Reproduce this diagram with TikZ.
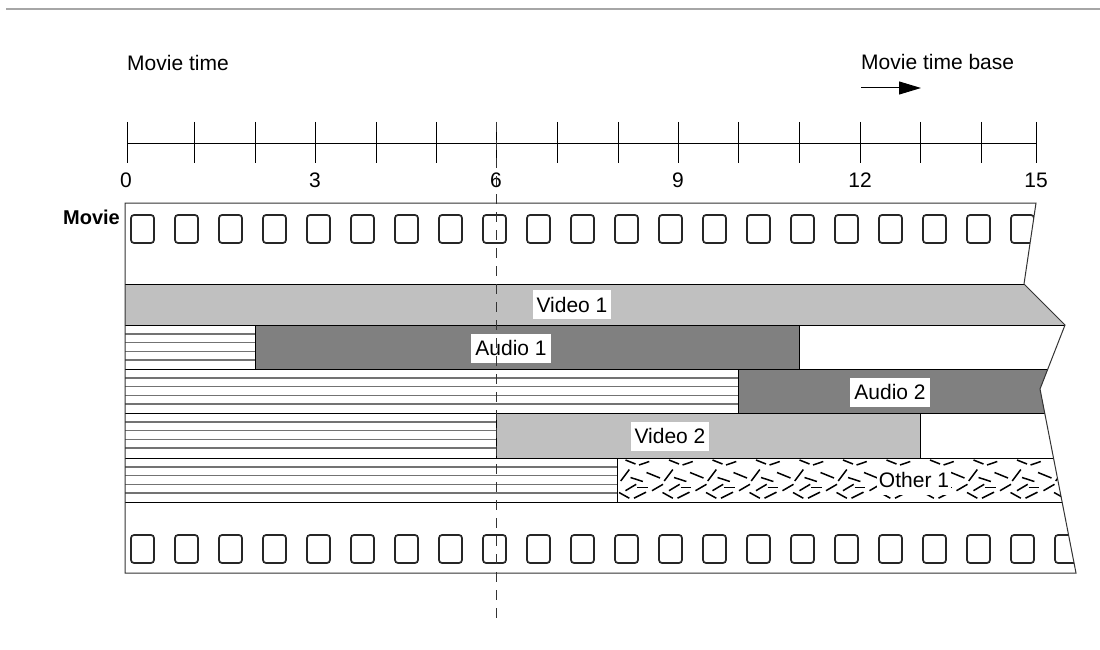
\documentclass[tikz,border=0pt]{standalone}
\usepackage{fontspec}
\setmainfont{Liberation Sans}
\usetikzlibrary{arrows.meta}
\definecolor{vid}{HTML}{C0C0C0}
\definecolor{aud}{HTML}{808080}
\begin{document}
\begin{tikzpicture}[x=1pt,y=-1pt,
  lbl/.style={font=\fontsize{21}{25}\selectfont, inner sep=0pt},
  tag/.style={font=\fontsize{21}{25}\selectfont, fill=white, inner xsep=4pt, inner ysep=0pt, minimum height=29pt},
  hatchline/.style={draw=black!55, line width=1.5pt},
  bandline/.style={draw=black, line width=1pt},
  hole/.style={draw=black!85, line width=1.7pt, rounded corners=3pt, fill=white},
  tickline/.style={draw=black, line width=1pt},
  speck/.style={draw=black, line width=1.5pt},
]
\useasboundingbox (0,0) rectangle (1100,650);
% top rule
\coordinate (r1) at (6,9);
\coordinate (r2) at (1100,9);
\draw[black!35, line width=1.5pt] (r1) -- (r2);

% header texts
\node[lbl, anchor=west] (mt) at (127,63) {Movie time};
\node[lbl, anchor=west] (mtb) at (861,62) {Movie time base};
\coordinate (ar1) at (861,88);
\coordinate (ar2) at (921,88);
\draw[line width=1pt, -{Triangle[length=22pt,width=13pt]}] (ar1) -- (ar2);

% time axis
\coordinate (ax0) at (127,144);
\coordinate (ax15) at (1036,144);
\draw[tickline] (ax0) -- (ax15);
\foreach \x in {127,194,255,315,376,436,496,557,618,678,738,799,860,920,981,1036}
  \draw[tickline] (\x,122) -- (\x,163);
\foreach \x/\t in {126/0,315/3,496/6,678/9,860/12,1036/15}
  \node[lbl] (t\t) at (\x,180) {\t};

\node[lbl, font=\fontsize{20}{24}\selectfont\bfseries, anchor=east] (movie) at (120,217) {Movie};

% film outline coordinates
\coordinate (f1) at (125,203);
\coordinate (f2) at (1036,203);
\coordinate (f3) at (1024,284);
\coordinate (f4) at (1065,325);
\coordinate (f5) at (1040,389);
\coordinate (f6) at (1076,573);
\coordinate (f7) at (125,573);

\begin{scope}
  \clip (f1) -- (f2) -- (f3) -- (f4) -- (f5) -- (f6) -- (f7) -- cycle;
  % bands
  \fill[vid] (125,284) rectangle (1100,325);
  \fill[aud] (255,325) rectangle (799,369);
  \fill[aud] (738,369) rectangle (1100,413);
  \fill[vid] (496,413) rectangle (920,458);
  % hatching
  \foreach \t/\r in {325/255,369/738,413/496,458/617}
    \foreach \k in {1,...,4}
      \draw[hatchline] (125,\t+8.8*\k) -- (\r,\t+8.8*\k);
  % Other 1 pattern
  \begin{scope}
    \clip (617,458) rectangle (1100,502);
    \foreach \i in {0,...,10} {
      \begin{scope}[shift={(617+43.5*\i,458)}]
        \draw[speck] (8.5,2) -- (18.5,6);
        \draw[speck] (22,7) -- (32.3,3.5);
        \draw[speck] (3.7,23) -- (12.3,11.5);
        \draw[speck] (13.5,19.5) -- (25.9,23.5);
        \draw[speck] (29.5,14.5) -- (43,20);
        \draw[speck] (8.5,32.7) -- (19.2,26.3);
        \draw[speck] (20,29.3) -- (30.7,29.3);
        \draw[speck] (35,32.7) -- (46,26.3);
        \draw[speck] (2,34.5) -- (12.3,40.2);
        \draw[speck] (17,40.2) -- (29,34.2);
      \end{scope}
    }
  \end{scope}
  % band borders
  \foreach \y in {284,325,369,413,458,502}
    \draw[bandline] (125,\y) -- (1100,\y);
  \draw[bandline] (255,325) -- (255,369);
  \draw[bandline] (799,325) -- (799,369);
  \draw[bandline] (738,369) -- (738,413);
  \draw[bandline] (496,413) -- (496,458);
  \draw[bandline] (920,413) -- (920,458);
  \draw[bandline] (617,458) -- (617,502);
  % sprocket holes
  \foreach \k in {0,...,21} {
    \draw[hole] (131+44*\k,215) rectangle (154+44*\k,243);
    \draw[hole] (131+44*\k,535) rectangle (154+44*\k,563);
  }
\end{scope}
\draw[black!80, line width=1pt, line join=miter] (f1) -- (f2) -- (f3) -- (f4) -- (f5) -- (f6) -- (f7) -- cycle;

% labels
\node[tag] (v1) at (572,304.5) {Video 1};
\node[tag] (au1) at (511,348) {Audio 1};
\node[tag] (au2) at (890,392) {Audio 2};
\node[tag] (v2) at (670,436) {Video 2};
\node[tag, inner xsep=2pt] (o1) at (914,480) {Other 1};

% current time marker
\coordinate (d1) at (496,122);
\coordinate (d2) at (496,622);
\draw[black!80, line width=1pt, dash pattern=on 10pt off 8pt] (d1) -- (d2);
\end{tikzpicture}
\end{document}
